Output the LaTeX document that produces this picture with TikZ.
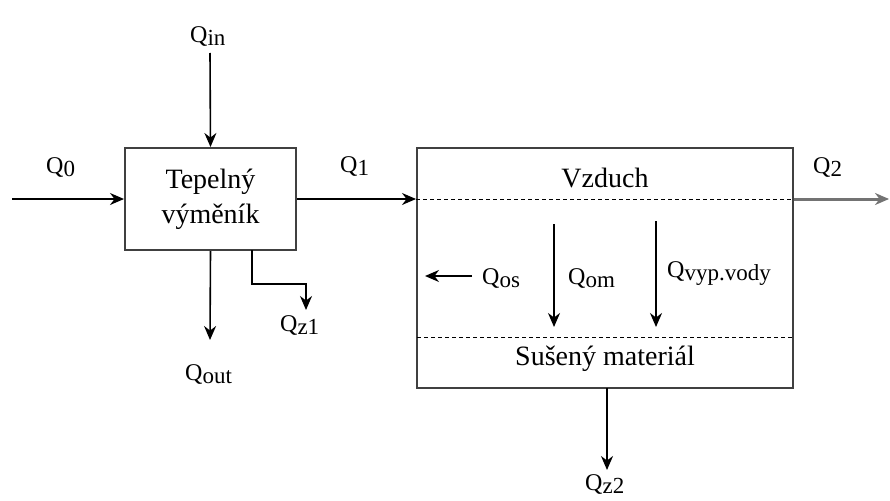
\documentclass[tikz,border=0pt]{standalone}
\usepackage{fontspec}
\setmainfont{Liberation Serif}
\usetikzlibrary{arrows.meta,positioning}

\newcommand{\Qsub}[1]{Q\raisebox{-3pt}{\fontsize{23}{23}\selectfont #1}}

\begin{document}
\begin{tikzpicture}[x=1pt, y=-1pt,
  block/.style={rectangle, draw=black!75, line width=2pt, fill=white, minimum width=171pt, minimum height=102pt, align=center, font=\fontsize{28}{35}\selectfont},
  line/.style={draw, -{Stealth[length=14pt,width=12pt]}, line width=1.6pt},
  sep/.style={draw, dash pattern=on 4pt off 3pt, line width=1pt},
  flow/.style={anchor=base west, inner sep=0pt, font=\fontsize{24}{24}\selectfont},
  title/.style={anchor=base, inner sep=0pt, font=\fontsize{28}{28}\selectfont}
]
\useasboundingbox (0,0) rectangle (890,500);

\node [block] (hx) at (210.5,199) {Tepelný\\výměník};
\node [block, minimum width=376pt, minimum height=240pt] (dryer) at (605,268) {};

% points on the borders and free ends
\coordinate (airW) at (dryer.west |- hx.east);
\coordinate (airE) at (dryer.east |- hx.east);
\coordinate (matW) at (417,337);
\coordinate (matE) at (793,337);
\coordinate (in0) at (12,199);
\coordinate (intop) at (210,53);
\coordinate (outend) at (210,340);
\coordinate (z1top) at (252,250);
\coordinate (z1end) at (306,310);
\coordinate (q2end) at (889,199);
\coordinate (z2top) at (607,388);
\coordinate (z2end) at (607,470);
\coordinate (osA) at (472,276);
\coordinate (osB) at (425,276);
\coordinate (omA) at (554,224);
\coordinate (omB) at (554,327);
\coordinate (vyA) at (656,221);
\coordinate (vyB) at (656,327);

\path [sep] (airW) -- (airE);
\path [sep] (matW) -- (matE);
\node [title] (air) at (605,187) {Vzduch};
\node [title] (mat) at (605,365) {Sušený materiál};

\path [line] (in0) -- (hx.west);
\path [line] (intop) -- (hx.north);
\path [line] (hx.south) -- (outend);
\path [line] (z1top) -- ++(0,34) -| (z1end);
\path [line] (hx.east) -- (airW);
\path [line, draw=black!55, line width=3pt] (airE) -- (q2end);
\path [line] (z2top) -- (z2end);
\path [line] (osA) -- (osB);
\path [line] (omA) -- (omB);
\path [line] (vyA) -- (vyB);

\node [flow] (lin) at (190,43) {\Qsub{in}};
\node [flow] (l0) at (46,173) {\Qsub{0}};
\node [flow] (l1) at (340,172) {\Qsub{1}};
\node [flow] (l2) at (813,173) {\Qsub{2}};
\node [flow] (lout) at (185,380) {\Qsub{out}};
\node [flow] (lz1) at (280,331) {\Qsub{z1}};
\node [flow] (lz2) at (585,490) {\Qsub{z2}};
\node [flow] (los) at (482,284) {\Qsub{os}};
\node [flow] (lom) at (568,284) {\Qsub{om}};
\node [flow] (lvy) at (667,277) {\Qsub{vyp.vody}};
\end{tikzpicture}
\end{document}
